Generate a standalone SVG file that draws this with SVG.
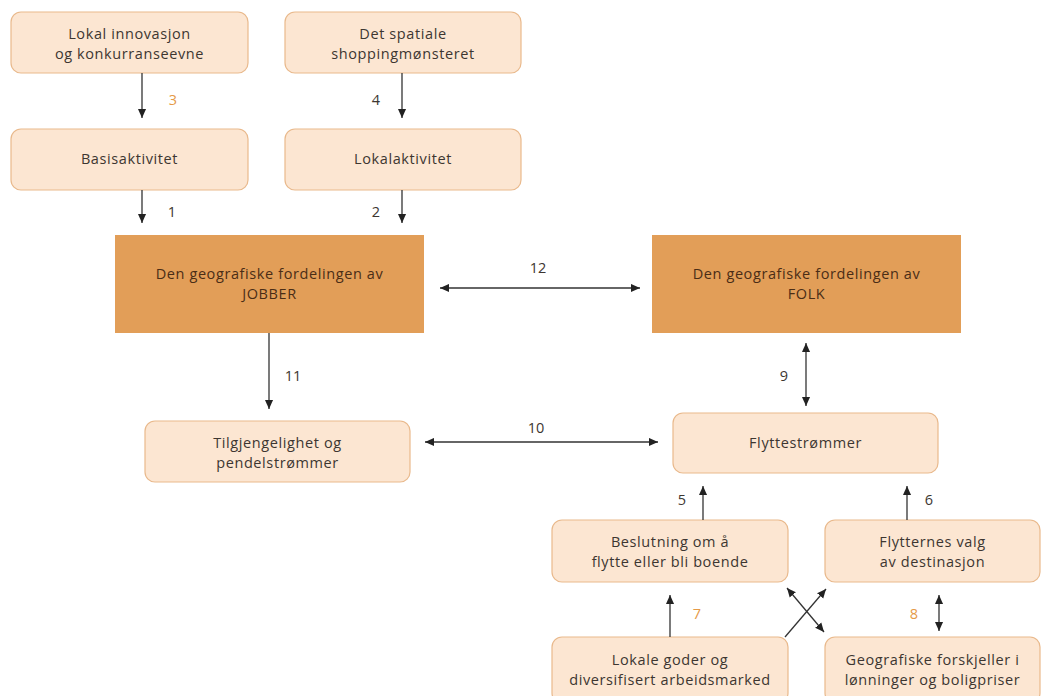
<svg xmlns="http://www.w3.org/2000/svg" width="1048" height="696" viewBox="0 0 1048 696">
<style>
.lb{fill:#FCE6D2;stroke:#E9B98C;stroke-width:1.2}
.db{fill:#E29E58;stroke:none}
.t{font-family:"Open Sans","Liberation Sans",sans-serif;font-size:14.5px;letter-spacing:0.6px;fill:#3d3631;text-anchor:middle}
.dt{fill:#4a2d16}
.n{font-family:"Open Sans","Liberation Sans",sans-serif;font-size:14.5px;fill:#3d3631;text-anchor:middle}
.o{fill:#E59A48}
.c{stroke:#333;stroke-width:1.3;fill:none}
</style>
<defs>
<marker id="ah" viewBox="0 0 10 10" refX="10" refY="5" markerWidth="9" markerHeight="9" markerUnits="userSpaceOnUse" orient="auto-start-reverse">
<path d="M0,0.5 L10,5 L0,9.5 z" fill="#222"/>
</marker>
</defs>
<rect width="1048" height="696" fill="#fff"/>
<g id="n-innovasjon"><rect class="lb" x="11" y="12" width="237" height="61" rx="10"/><text class="t" x="129.5" y="39">Lokal innovasjon</text><text class="t" x="129.5" y="59">og konkurranseevne</text></g>
<g id="n-shopping"><rect class="lb" x="285" y="12" width="236" height="61" rx="10"/><text class="t" x="403" y="39">Det spatiale</text><text class="t" x="403" y="59">shoppingmønsteret</text></g>
<g id="n-basis"><rect class="lb" x="11" y="129" width="237" height="61" rx="10"/><text class="t" x="129.5" y="164">Basisaktivitet</text></g>
<g id="n-lokal"><rect class="lb" x="285" y="129" width="236" height="61" rx="10"/><text class="t" x="403" y="164">Lokalaktivitet</text></g>
<g id="n-jobber"><rect class="db" x="115" y="235" width="309" height="98"/><text class="t dt" x="269.5" y="279">Den geografiske fordelingen av</text><text class="t dt" x="269.5" y="299">JOBBER</text></g>
<g id="n-folk"><rect class="db" x="652" y="235" width="309" height="98"/><text class="t dt" x="806.5" y="279">Den geografiske fordelingen av</text><text class="t dt" x="806.5" y="299">FOLK</text></g>
<g id="n-tilgj"><rect class="lb" x="145" y="421" width="265" height="61" rx="10"/><text class="t" x="277.5" y="448">Tilgjengelighet og</text><text class="t" x="277.5" y="468">pendelstrømmer</text></g>
<g id="n-flytte"><rect class="lb" x="673" y="413" width="265" height="60" rx="10"/><text class="t" x="805.5" y="448">Flyttestrømmer</text></g>
<g id="n-beslutning"><rect class="lb" x="552" y="520" width="236" height="62" rx="10"/><text class="t" x="670" y="547">Beslutning om å</text><text class="t" x="670" y="567">flytte eller bli boende</text></g>
<g id="n-valg"><rect class="lb" x="825" y="520" width="215" height="62" rx="10"/><text class="t" x="932.5" y="547">Flytternes valg</text><text class="t" x="932.5" y="567">av destinasjon</text></g>
<g id="n-goder"><rect class="lb" x="552" y="637" width="236" height="66" rx="10"/><text class="t" x="670" y="665">Lokale goder og</text><text class="t" x="670" y="685">diversifisert arbeidsmarked</text></g>
<g id="n-forskjeller"><rect class="lb" x="825" y="637" width="215" height="66" rx="10"/><text class="t" x="932.5" y="665">Geografiske forskjeller i</text><text class="t" x="932.5" y="685">lønninger og boligpriser</text></g>
<g id="connectors">
<line class="c" x1="142" y1="73" x2="142" y2="118" marker-end="url(#ah)"/>
<line class="c" x1="402" y1="73" x2="402" y2="118" marker-end="url(#ah)"/>
<line class="c" x1="142" y1="190" x2="142" y2="223" marker-end="url(#ah)"/>
<line class="c" x1="402" y1="190" x2="402" y2="223" marker-end="url(#ah)"/>
<line class="c" x1="440" y1="288" x2="640" y2="288" marker-start="url(#ah)" marker-end="url(#ah)"/>
<line class="c" x1="269" y1="333" x2="269" y2="409" marker-end="url(#ah)"/>
<line class="c" x1="806" y1="343" x2="806" y2="406" marker-start="url(#ah)" marker-end="url(#ah)"/>
<line class="c" x1="425" y1="442" x2="658" y2="442" marker-start="url(#ah)" marker-end="url(#ah)"/>
<line class="c" x1="703" y1="520" x2="703" y2="486" marker-end="url(#ah)"/>
<line class="c" x1="907" y1="520" x2="907" y2="486" marker-end="url(#ah)"/>
<line class="c" x1="670" y1="637" x2="670" y2="595" marker-end="url(#ah)"/>
<line class="c" x1="939" y1="595" x2="939" y2="631" marker-start="url(#ah)" marker-end="url(#ah)"/>
<line class="c" x1="785" y1="637" x2="826" y2="589" marker-end="url(#ah)"/>
<line class="c" x1="787" y1="588" x2="824" y2="632" marker-start="url(#ah)" marker-end="url(#ah)"/>
<text class="n o" x="173" y="105">3</text>
<text class="n" x="376" y="105">4</text>
<text class="n" x="172" y="217">1</text>
<text class="n" x="376" y="217">2</text>
<text class="n" x="538" y="273">12</text>
<text class="n" x="293" y="381">11</text>
<text class="n" x="784" y="381">9</text>
<text class="n" x="536" y="433">10</text>
<text class="n" x="682" y="505">5</text>
<text class="n" x="929" y="505">6</text>
<text class="n o" x="697" y="619">7</text>
<text class="n o" x="914" y="619">8</text>
</g>
</svg>
